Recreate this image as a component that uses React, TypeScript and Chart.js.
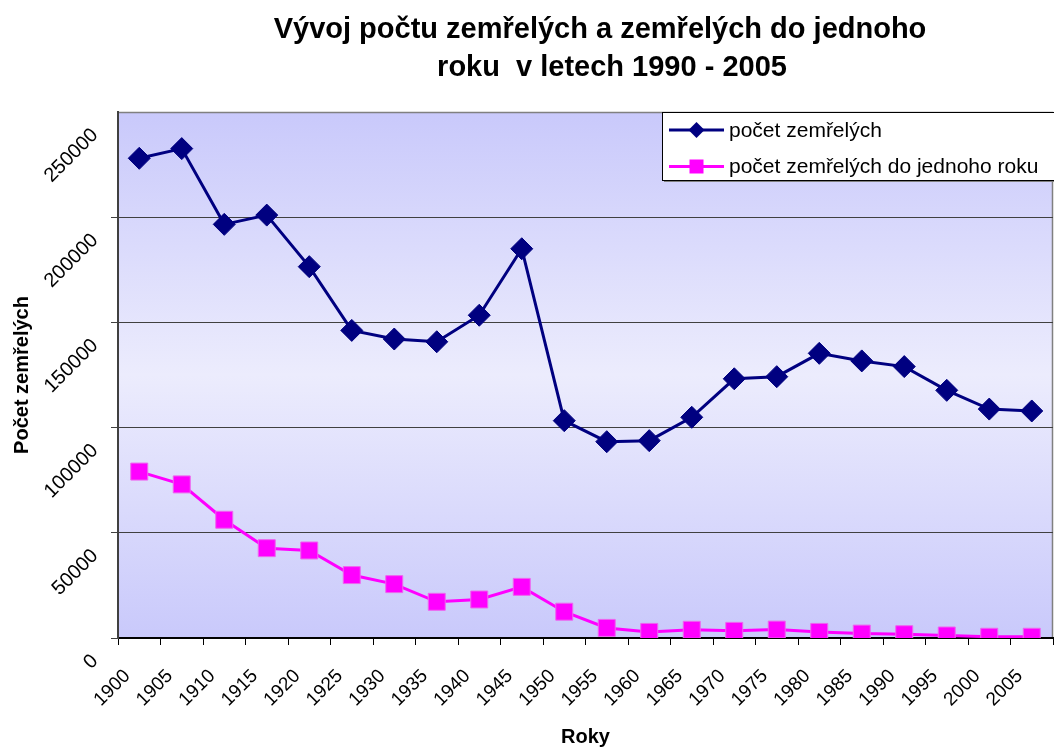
import React, { useEffect, useRef } from 'react';
import { Chart, registerables } from 'chart.js';

Chart.register(...registerables);

const TITLE_LINES = ['Vývoj počtu zemřelých a zemřelých do jednoho', 'roku  v letech 1990 - 2005'];
const X_TITLE = 'Roky';
const Y_TITLE = 'Počet zemřelých';
const YEARS = ['1900', '1905', '1910', '1915', '1920', '1925', '1930', '1935', '1940', '1945', '1950', '1955', '1960', '1965', '1970', '1975', '1980', '1985', '1990', '1995', '2000', '2005'];
const SERIES_LABELS = ['počet zemřelých', 'počet zemřelých do jednoho roku'];
const DEATHS = [228000, 232600, 196600, 201000, 176500, 146200, 142100, 140800, 153400, 185000, 103300, 93300, 93800, 104900, 123200, 124200, 135300, 131700, 129000, 117700, 108800, 107900];
const INFANT_DEATHS = [79100, 73000, 56200, 42700, 41600, 29900, 25600, 17200, 18300, 24300, 12500, 4800, 2900, 3900, 3400, 4000, 2900, 2100, 1800, 1200, 600, 600];
const Y_MIN = 0;
const Y_MAX = 250000;
const Y_STEP = 50000;

const FONT = "'Liberation Sans', Arial, sans-serif";
const NAVY = '#000080';
const MAGENTA = '#FF00FF';

const titlePlugin = {
  id: 'customTitle',
  afterDraw(chart: any) {
    const { ctx } = chart;
    ctx.save();
    ctx.fillStyle = '#000000';
    ctx.font = `bold 29px ${FONT}`;
    ctx.textAlign = 'center';
    ctx.textBaseline = 'middle';
    ctx.fillText(TITLE_LINES[0], 600, 30);
    ctx.fillText(TITLE_LINES[1], 612, 68);
    ctx.restore();
  },
};

const bgPlugin = {
  id: 'plotBg',
  beforeDraw(chart: any) {
    const { ctx, chartArea: a } = chart;
    ctx.save();
    const g = ctx.createLinearGradient(0, a.top, 0, a.bottom);
    g.addColorStop(0, '#c9c9fb');
    g.addColorStop(0.5, '#ececfd');
    g.addColorStop(1, '#c9c9fb');
    ctx.fillStyle = g;
    ctx.fillRect(a.left, a.top, a.right - a.left, a.bottom - a.top);
    ctx.strokeStyle = '#808080';
    ctx.lineWidth = 1.5;
    ctx.beginPath();
    ctx.moveTo(a.left, a.top + 0.5);
    ctx.lineTo(a.right - 0.5, a.top + 0.5);
    ctx.lineTo(a.right - 0.5, a.bottom);
    ctx.stroke();
    ctx.restore();
  },
};

const legendPlugin = {
  id: 'insideLegend',
  afterDraw(chart: any) {
    const { ctx, chartArea: a } = chart;
    const x0 = a.right - 391;
    const y0 = a.top;
    const w = 395;
    const h = 68;
    ctx.save();
    ctx.fillStyle = '#808080';
    ctx.fillRect(x0 + 2, y0 + 2, w, h);
    ctx.fillStyle = '#ffffff';
    ctx.fillRect(x0, y0, w, h);
    ctx.strokeStyle = '#000000';
    ctx.lineWidth = 1;
    ctx.strokeRect(x0 + 0.5, y0 + 0.5, w, h);
    chart.data.datasets.forEach((ds: any, i: number) => {
      const cy = y0 + 18 + i * 36.5;
      ctx.strokeStyle = ds.borderColor;
      ctx.lineWidth = 3;
      ctx.beginPath();
      ctx.moveTo(x0 + 7, cy);
      ctx.lineTo(x0 + 62, cy);
      ctx.stroke();
      ctx.fillStyle = ds.pointBackgroundColor;
      const cx = x0 + 34.5;
      ctx.beginPath();
      if (ds.pointStyle === 'rectRot') {
        const r = 8;
        ctx.moveTo(cx - r, cy);
        ctx.lineTo(cx, cy - r);
        ctx.lineTo(cx + r, cy);
        ctx.lineTo(cx, cy + r);
        ctx.closePath();
      } else {
        const r = 7;
        ctx.rect(cx - r, cy - r, 2 * r, 2 * r);
      }
      ctx.fill();
      ctx.fillStyle = '#000000';
      ctx.font = `21px ${FONT}`;
      ctx.textAlign = 'left';
      ctx.textBaseline = 'middle';
      ctx.fillText(ds.label, x0 + 67, cy + 1);
    });
    ctx.restore();
  },
};

export default function App() {
  const ref = useRef<HTMLCanvasElement | null>(null);
  useEffect(() => {
    document.body.style.margin = '0';
    const canvas = ref.current;
    if (!canvas) return;
    const chart = new Chart(canvas, {
      type: 'line',
      data: {
        labels: YEARS,
        datasets: [
          {
            label: SERIES_LABELS[0],
            data: DEATHS,
            borderColor: NAVY,
            backgroundColor: NAVY,
            pointBackgroundColor: NAVY,
            pointBorderColor: NAVY,
            pointBorderWidth: 1,
            borderWidth: 3,
            pointStyle: 'rectRot',
            pointRadius: 11,
            tension: 0,
          },
          {
            label: SERIES_LABELS[1],
            data: INFANT_DEATHS,
            borderColor: MAGENTA,
            backgroundColor: MAGENTA,
            pointBackgroundColor: MAGENTA,
            pointBorderColor: '#ee66ee',
            pointBorderWidth: 1,
            borderWidth: 3,
            pointStyle: 'rect',
            pointRadius: 12,
            tension: 0,
          },
        ],
      },
      options: {
        responsive: false,
        animation: false,
        layout: { autoPadding: false, padding: { left: 0, right: 1, top: 112, bottom: 0 } },
        plugins: {
          legend: { display: false },
          tooltip: { enabled: false },
          title: { display: false },
        },
        scales: {
          x: {
            type: 'category',
            offset: true,
            grid: {
              offset: true,
              drawOnChartArea: false,
              drawTicks: true,
              tickLength: 7,
              color: '#000000',
              lineWidth: 1,
            },
            border: { display: true, color: '#000000', width: 2 },
            ticks: {
              autoSkip: false,
              minRotation: 45,
              maxRotation: 45,
              color: '#000000',
              font: { family: FONT, size: 19 },
              padding: 20,
              labelOffset: -12,
            },
            title: {
              display: true,
              text: X_TITLE,
              color: '#000000',
              font: { family: FONT, size: 20, weight: 'bold' },
              padding: { top: 0, bottom: 0 },
            },
            afterFit(scale: any) {
              scale.height = 111;
              scale.paddingLeft = 0;
              scale.paddingRight = 0;
            },
          },
          y: {
            min: Y_MIN,
            max: Y_MAX,
            grid: {
              color: (c: any) => (c.tick && c.tick.value === Y_MAX ? 'rgba(0,0,0,0)' : '#404040'),
              lineWidth: 1,
              drawTicks: true,
              tickLength: 7,
            },
            border: { display: true, color: '#404040', width: 2 },
            ticks: {
              stepSize: Y_STEP,
              color: '#000000',
              font: { family: FONT, size: 20 },
              minRotation: 45,
              maxRotation: 45,
              padding: 16,
              labelOffset: 20,
              callback: (v: any) => String(v),
            },
            title: {
              display: true,
              text: Y_TITLE,
              color: '#000000',
              font: { family: FONT, size: 20, weight: 'bold' },
              padding: { top: 10, bottom: 0 },
            },
            afterFit(scale: any) {
              scale.width = 118;
              scale.paddingTop = 0;
              scale.paddingBottom = 0;
            },
          },
        },
      },
      plugins: [bgPlugin, legendPlugin, titlePlugin],
    });
    return () => chart.destroy();
  }, []);
  return (
    <div style={{ width: 1054, height: 749 }}>
      <canvas ref={ref} width={1054} height={749} style={{ display: 'block' }} />
    </div>
  );
}
